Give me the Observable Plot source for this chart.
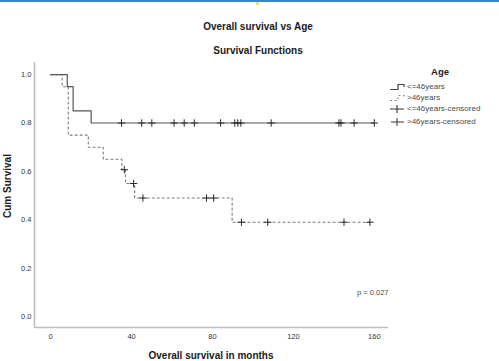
<!DOCTYPE html>
<html><head><meta charset="utf-8">
<script src="https://cdn.jsdelivr.net/npm/d3@7"></script>
<script src="https://cdn.jsdelivr.net/npm/@observablehq/plot@0.6"></script>
<style>
body{margin:0;background:#fff;font-family:"Liberation Sans",Arial,sans-serif;}
#wrap{position:relative;width:499px;height:361px;overflow:hidden;background:#fff;}
#wrap svg.plot{position:absolute;left:0;top:0;}
.lbl{position:absolute;white-space:nowrap;transform:translate(-50%,-50%);line-height:1;}
.b{font-weight:bold;color:#1a1a1a;font-size:10px;}
.leg{position:absolute;white-space:nowrap;transform:translateY(-50%);font-size:8px;color:#4a4a4a;line-height:1;}
.sym{position:absolute;transform:translateY(-50%);}
</style></head><body><div id="wrap"></div>
<script>
// Axis ticks and domains
const xTicks = [0, 40, 80, 120, 160];
const yTicks = [0, 0.2, 0.4, 0.6, 0.8, 1.0];
const xDomain = [-8, 167];
const yDomain = [-0.045, 1.05];

// Group <=46years (solid step curve)
const g1Time = [0, 8.2, 11.1, 20, 160];
const g1Surv = [1.0, 0.95, 0.85, 0.80, 0.80];
const g1CensorTime = [35, 45, 50, 61, 66, 71, 84, 91, 92.5, 94, 109, 142.5, 143.5, 150, 160];
const g1CensorSurv = [0.80, 0.80, 0.80, 0.80, 0.80, 0.80, 0.80, 0.80, 0.80, 0.80, 0.80, 0.80, 0.80, 0.80, 0.80];

// Group >46years (dotted step curve)
const g2Time = [0, 5.7, 8.7, 18.6, 26, 35.2, 37, 41.5, 89.7, 158];
const g2Surv = [1.0, 0.95, 0.75, 0.70, 0.65, 0.607, 0.55, 0.49, 0.39, 0.39];
const g2CensorTime = [36.4, 41, 45.6, 77, 80.6, 94.3, 107.3, 145, 157.8];
const g2CensorSurv = [0.607, 0.55, 0.49, 0.49, 0.49, 0.39, 0.39, 0.39, 0.39];

const legendLabels = ["<=46years", ">46years", "<=46years-censored", ">46years-censored"];
const titleText = "Overall survival vs Age";
const subtitleText = "Survival Functions";
const xLabel = "Overall survival in months";
const yLabel = "Cum Survival";
const pText = "p = 0.027";

const g1 = g1Time.map((t, i) => ({t, s: g1Surv[i]}));
const g2 = g2Time.map((t, i) => ({t, s: g2Surv[i]}));
const c1 = g1CensorTime.map((t, i) => ({t, s: g1CensorSurv[i]}));
const c2 = g2CensorTime.map((t, i) => ({t, s: g2CensorSurv[i]}));

const thinPlus = {
  draw(ctx, size) {
    const r = Math.sqrt(size) / 2;
    ctx.moveTo(-r, 0); ctx.lineTo(r, 0);
    ctx.moveTo(0, -r); ctx.lineTo(0, r);
  }
};

const chart = Plot.plot({
  width: 499,
  height: 361,
  marginLeft: 34,
  marginRight: 111,
  marginTop: 62,
  marginBottom: 34,
  style: {fontFamily: "'Liberation Sans', Arial, sans-serif", fontSize: "7.5px", color: "#333", background: "transparent"},
  x: {domain: xDomain, ticks: xTicks, tickSize: 0, tickPadding: 6, label: null, tickFormat: d3.format("d")},
  y: {domain: yDomain, ticks: yTicks, tickSize: 0, tickPadding: 3, label: null, tickFormat: d3.format(".1f")},
  marks: [
    Plot.ruleX([xDomain[0]], {stroke: "#bdbdbd", strokeWidth: 1.6}),
    Plot.ruleY([yDomain[0]], {stroke: "#bdbdbd", strokeWidth: 1.6}),
    Plot.line(g2, {x: "t", y: "s", curve: "step-after", stroke: "#7a7a7a", strokeWidth: 1.1, strokeDasharray: "2,3"}),
    Plot.line(g1, {x: "t", y: "s", curve: "step-after", stroke: "#555", strokeWidth: 1.2}),
    Plot.dot(c1, {x: "t", y: "s", symbol: thinPlus, r: 4.2, stroke: "#2a2a2a", strokeWidth: 1, fill: "none"}),
    Plot.dot(c2, {x: "t", y: "s", symbol: thinPlus, r: 4.2, stroke: "#2a2a2a", strokeWidth: 1, fill: "none"})
  ]
});
chart.classList.add("plot");

const wrap = document.getElementById("wrap");
wrap.appendChild(chart);

function addLbl(text, x, y, cls, extra) {
  const d = document.createElement("div");
  d.className = cls;
  d.textContent = text;
  d.style.left = x + "px";
  d.style.top = y + "px";
  if (extra) Object.assign(d.style, extra);
  wrap.appendChild(d);
  return d;
}

// top page border and dot
const bar = document.createElement("div");
Object.assign(bar.style, {position: "absolute", left: "0", top: "0", width: "499px", height: "2px", background: "#3a86c2"});
wrap.appendChild(bar);
const dotY = document.createElement("div");
Object.assign(dotY.style, {position: "absolute", left: "256px", top: "2px", width: "3px", height: "3px", background: "#f3dc7a"});
wrap.appendChild(dotY);

addLbl(titleText, 258, 27, "lbl b");
addLbl(subtitleText, 258, 51, "lbl b");
addLbl(xLabel, 211, 356, "lbl b");
addLbl(yLabel, 8, 186, "lbl b", {transform: "translate(-50%,-50%) rotate(-90deg)"});
addLbl(pText, 357, 293, "leg", {fontSize: "7.5px"});

// Legend
addLbl("Age", 440, 72, "lbl b", {fontSize: "9.5px"});
const rowsY = [86.5, 98, 109, 121.5];
const symSvgs = [
  '<svg width="15" height="8"><path d="M0,6.5H8V1.5H14V4" fill="none" stroke="#444" stroke-width="1.2"/></svg>',
  '<svg width="15" height="8"><path d="M0,6.5H8V1.5H14V4" fill="none" stroke="#888" stroke-width="1.1" stroke-dasharray="2,2.5"/></svg>',
  '<svg width="15" height="9"><path d="M0,4.5H14M7,0.5V8.5" fill="none" stroke="#333" stroke-width="1.1"/></svg>',
  '<svg width="15" height="9"><path d="M1,4.5H14M7,0.5V8.5" fill="none" stroke="#333" stroke-width="1"/></svg>'
];
legendLabels.forEach((t, i) => {
  const s = document.createElement("div");
  s.className = "sym";
  s.style.left = "390px";
  s.style.top = rowsY[i] + "px";
  s.innerHTML = symSvgs[i];
  s.style.lineHeight = "0";
  wrap.appendChild(s);
  addLbl(t, 407, rowsY[i], "leg");
});
</script>
</body></html>
